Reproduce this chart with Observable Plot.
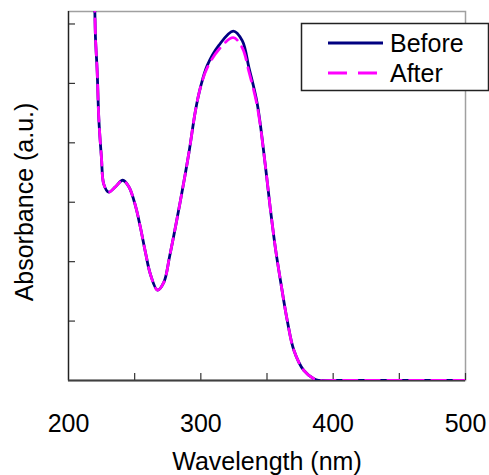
<!DOCTYPE html>
<html>
<head>
<meta charset="utf-8">
<script src="https://cdn.jsdelivr.net/npm/d3@7"></script>
<script src="https://cdn.jsdelivr.net/npm/@observablehq/plot@0.6"></script>
<style>
  html, body { margin: 0; padding: 0; background: #fff; }
  #chart { position: relative; width: 489px; height: 475px; overflow: hidden; }
  #legend { position: absolute; left: 0; top: 0; }
</style>
</head>
<body>
<div id="chart"></div>
<script>
// UV-Vis absorption spectra (arbitrary units)
const wavelength = [219.5, 219.9, 220.4, 221.7, 222.9, 224.9, 226.7, 230.3, 235.5, 241.0, 245.6, 250.6,
  254.4, 258.2, 262.0, 267.3, 272.0, 276.5, 284.6, 290.9, 296.0, 299.8, 304.8, 313.6, 324.5,
  331.3, 336.3, 342.6, 348.9, 352.7, 356.4, 360.2, 365.3, 370.3, 377.8, 385.4, 388.9, 400, 450, 500];
const before = [6.45, 6.21, 5.76, 5.19, 4.41, 3.75, 3.30, 3.17, 3.26, 3.37, 3.26, 2.94,
  2.57, 2.15, 1.78, 1.52, 1.65, 2.10, 3.03, 3.82, 4.55, 4.94, 5.30, 5.64, 5.88,
  5.72, 5.27, 4.66, 3.59, 2.86, 2.22, 1.68, 1.01, 0.51, 0.17, 0.03, 0, 0, 0, 0];
const after = [6.45, 6.21, 5.76, 5.19, 4.41, 3.75, 3.30, 3.17, 3.26, 3.37, 3.26, 2.94,
  2.57, 2.15, 1.78, 1.52, 1.65, 2.10, 3.03, 3.82, 4.55, 4.94, 5.26, 5.57, 5.77,
  5.60, 5.20, 4.62, 3.59, 2.86, 2.22, 1.68, 1.01, 0.51, 0.17, 0.03, 0, 0, 0, 0];

const seriesNames = ["Before", "After"];
const seriesColors = ["#000080", "#ff00ff"];
const xTicks = [250, 300, 350, 400, 450, 500];
const xTickLabels = [200, 300, 400, 500];
const yTicks = [1, 2, 3, 4, 5, 6];
const xTitle = "Wavelength (nm)";
const yTitle = "Absorbance (a.u.)";

const rows = wavelength.map((w, i) => ({w, before: before[i], after: after[i]}));
const font = "'Liberation Sans', Arial, sans-serif";

const plot = Plot.plot({
  width: 489,
  height: 475,
  marginLeft: 68,
  marginRight: 24,
  marginTop: 11,
  marginBottom: 95,
  style: {fontFamily: font, background: "#fff", color: "#000"},
  x: {domain: [200, 500]},
  y: {domain: [0, 6.21]},
  marks: [
    Plot.frame({stroke: "#a0a0a0", strokeWidth: 1.5}),
    // inward tick marks
    Plot.axisX(xTicks, {tickSize: -7, text: null, stroke: "#333", strokeWidth: 1.2, label: null}),
    Plot.axisY(yTicks, {tickSize: -7, text: null, stroke: "#333", strokeWidth: 1.2, label: null}),
    // tick labels
    Plot.axisX(xTickLabels, {tickSize: 0, tickPadding: 34, fontSize: 25, fill: "#000", label: null}),
    Plot.ruleX([200], {stroke: "#222", strokeWidth: 1.3}),
    Plot.ruleY([0], {stroke: "#404040", strokeWidth: 1.8}),
    Plot.line(rows, {x: "w", y: "before", stroke: seriesColors[0], strokeWidth: 2.8, curve: "catmull-rom", clip: true}),
    Plot.line(rows, {x: "w", y: "after", stroke: seriesColors[1], strokeWidth: 2.8, strokeDasharray: "14,8", curve: "catmull-rom", clip: true}),
    Plot.text([xTitle], {frameAnchor: "bottom", lineAnchor: "middle", dy: 81, fontSize: 25, fill: "#000"}),
    Plot.text([yTitle], {frameAnchor: "left", textAnchor: "middle", lineAnchor: "middle", rotate: -90, dx: -44, dy: 6, fontSize: 25, fill: "#000"})
  ]
});

const chart = document.getElementById("chart");
chart.appendChild(plot);

// Legend box
const leg = d3.create("svg").attr("id", "legend").attr("width", 489).attr("height", 120);
leg.append("rect").attr("x", 301.5).attr("y", 23.5).attr("width", 187).attr("height", 67)
  .attr("fill", "#fff").attr("stroke", "#222").attr("stroke-width", 1.5);
seriesNames.forEach((name, i) => {
  const cy = 43 + i * 30;
  leg.append("line").attr("x1", 328).attr("x2", 383).attr("y1", cy).attr("y2", cy)
    .attr("stroke", seriesColors[i]).attr("stroke-width", 3)
    .attr("stroke-dasharray", i === 1 ? "19,11" : null);
  leg.append("text").attr("x", 390).attr("y", cy + 9.3).text(name)
    .attr("font-family", font).attr("font-size", 25).attr("fill", "#000");
});
chart.appendChild(leg.node());
</script>
</body>
</html>
